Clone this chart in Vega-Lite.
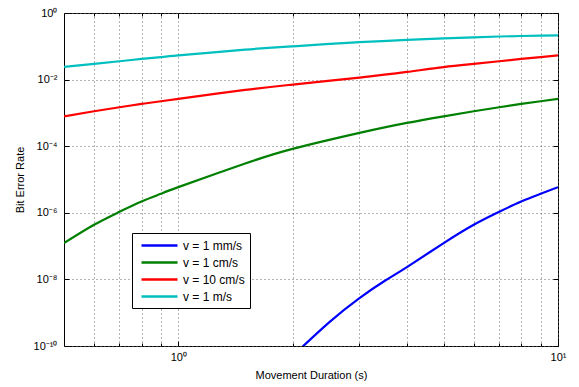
{
  "$schema": "https://vega.github.io/schema/vega-lite/v6.json",
  "autosize": {"type": "none"},
  "width": 494,
  "height": 333,
  "padding": {"left": 64, "top": 13, "right": 21, "bottom": 41},
  "background": "white",
  "config": {
    "view": {"stroke": "black", "strokeWidth": 1},
    "font": "Liberation Sans",
    "axis": {
      "labelFont": "Liberation Sans",
      "titleFont": "Liberation Sans",
      "labelColor": "black",
      "titleColor": "black",
      "labelFontSize": 11,
      "titleFontSize": 11,
      "titleFontWeight": "normal",
      "domain": false,
      "tickColor": "black",
      "gridColor": "#666666",
      "gridDash": [1, 3],
      "gridWidth": 1,
      "gridOpacity": 1
    }
  },
  "data": {
    "values": [
      {"t": 2.0, "ber": 5.0e-11, "v": "v = 1 mm/s"},
      {"t": 2.5, "ber": 5.2e-10, "v": "v = 1 mm/s"},
      {"t": 3, "ber": 2.75e-9, "v": "v = 1 mm/s"},
      {"t": 3.5, "ber": 9.1e-9, "v": "v = 1 mm/s"},
      {"t": 4, "ber": 2.34e-8, "v": "v = 1 mm/s"},
      {"t": 5, "ber": 1.23e-7, "v": "v = 1 mm/s"},
      {"t": 6, "ber": 4.37e-7, "v": "v = 1 mm/s"},
      {"t": 7, "ber": 1.07e-6, "v": "v = 1 mm/s"},
      {"t": 8, "ber": 2.19e-6, "v": "v = 1 mm/s"},
      {"t": 9, "ber": 3.72e-6, "v": "v = 1 mm/s"},
      {"t": 10, "ber": 5.89e-6, "v": "v = 1 mm/s"},

      {"t": 0.5, "ber": 1.23e-7, "v": "v = 1 cm/s"},
      {"t": 0.6, "ber": 4.37e-7, "v": "v = 1 cm/s"},
      {"t": 0.7, "ber": 1.07e-6, "v": "v = 1 cm/s"},
      {"t": 0.8, "ber": 2.19e-6, "v": "v = 1 cm/s"},
      {"t": 0.9, "ber": 3.72e-6, "v": "v = 1 cm/s"},
      {"t": 1, "ber": 5.89e-6, "v": "v = 1 cm/s"},
      {"t": 1.5, "ber": 3.02e-5, "v": "v = 1 cm/s"},
      {"t": 2, "ber": 8.32e-5, "v": "v = 1 cm/s"},
      {"t": 3, "ber": 2.51e-4, "v": "v = 1 cm/s"},
      {"t": 4, "ber": 5.01e-4, "v": "v = 1 cm/s"},
      {"t": 5, "ber": 7.9e-4, "v": "v = 1 cm/s"},
      {"t": 6, "ber": 1.12e-3, "v": "v = 1 cm/s"},
      {"t": 7, "ber": 1.48e-3, "v": "v = 1 cm/s"},
      {"t": 8, "ber": 1.86e-3, "v": "v = 1 cm/s"},
      {"t": 9, "ber": 2.24e-3, "v": "v = 1 cm/s"},
      {"t": 10, "ber": 2.63e-3, "v": "v = 1 cm/s"},

      {"t": 0.5, "ber": 7.9e-4, "v": "v = 10 cm/s"},
      {"t": 0.6, "ber": 1.12e-3, "v": "v = 10 cm/s"},
      {"t": 0.7, "ber": 1.48e-3, "v": "v = 10 cm/s"},
      {"t": 0.8, "ber": 1.86e-3, "v": "v = 10 cm/s"},
      {"t": 0.9, "ber": 2.24e-3, "v": "v = 10 cm/s"},
      {"t": 1, "ber": 2.63e-3, "v": "v = 10 cm/s"},
      {"t": 1.5, "ber": 4.9e-3, "v": "v = 10 cm/s"},
      {"t": 2, "ber": 7.08e-3, "v": "v = 10 cm/s"},
      {"t": 3, "ber": 0.0115, "v": "v = 10 cm/s"},
      {"t": 4, "ber": 0.017, "v": "v = 10 cm/s"},
      {"t": 5, "ber": 0.0237, "v": "v = 10 cm/s"},
      {"t": 6, "ber": 0.0295, "v": "v = 10 cm/s"},
      {"t": 7, "ber": 0.0355, "v": "v = 10 cm/s"},
      {"t": 8, "ber": 0.0417, "v": "v = 10 cm/s"},
      {"t": 9, "ber": 0.0473, "v": "v = 10 cm/s"},
      {"t": 10, "ber": 0.0531, "v": "v = 10 cm/s"},

      {"t": 0.5, "ber": 0.024, "v": "v = 1 m/s"},
      {"t": 0.6, "ber": 0.0295, "v": "v = 1 m/s"},
      {"t": 0.7, "ber": 0.0355, "v": "v = 1 m/s"},
      {"t": 0.8, "ber": 0.0417, "v": "v = 1 m/s"},
      {"t": 0.9, "ber": 0.0473, "v": "v = 1 m/s"},
      {"t": 1, "ber": 0.0531, "v": "v = 1 m/s"},
      {"t": 1.5, "ber": 0.0794, "v": "v = 1 m/s"},
      {"t": 2, "ber": 0.1, "v": "v = 1 m/s"},
      {"t": 2.5, "ber": 0.1175, "v": "v = 1 m/s"},
      {"t": 3, "ber": 0.1334, "v": "v = 1 m/s"},
      {"t": 4, "ber": 0.155, "v": "v = 1 m/s"},
      {"t": 5, "ber": 0.1718, "v": "v = 1 m/s"},
      {"t": 6, "ber": 0.186, "v": "v = 1 m/s"},
      {"t": 7, "ber": 0.197, "v": "v = 1 m/s"},
      {"t": 8, "ber": 0.204, "v": "v = 1 m/s"},
      {"t": 9, "ber": 0.209, "v": "v = 1 m/s"},
      {"t": 10, "ber": 0.214, "v": "v = 1 m/s"}
    ]
  },
  "resolve": {"axis": {"x": "independent", "y": "independent"}},
  "layer": [
    {
      "mark": {"type": "line", "strokeWidth": 2.2, "clip": true, "interpolate": "natural"},
      "encoding": {
        "x": {
          "field": "t", "type": "quantitative",
          "scale": {"type": "log", "domain": [0.5, 10], "nice": false},
          "axis": {
            "orient": "bottom",
            "title": "Movement Duration (s)",
            "values": [0.6, 0.7, 0.8, 0.9, 1, 2, 3, 4, 5, 6, 7, 8, 9, 10],
            "labelExpr": "datum.value == 1 ? '10⁰' : (datum.value == 10 ? '10¹' : '')",
            "tickSize": {"condition": {"test": "datum.value == 1 || datum.value == 10", "value": -5}, "value": -3},
            "labelPadding": 10,
            "labelFlush": false,
            "labelOverlap": false,
            "grid": true,
            "titleX": 247,
            "titleY": 29,
            "titleBaseline": "middle"
          }
        },
        "y": {
          "field": "ber", "type": "quantitative",
          "scale": {"type": "log", "domain": [1e-10, 1], "nice": false},
          "axis": {
            "orient": "left",
            "title": "Bit Error Rate",
            "values": [1e-10, 1e-8, 1e-6, 1e-4, 1e-2, 1],
            "labelExpr": "datum.value == 1 ? '10⁰' : datum.value == 0.01 ? '10⁻²' : datum.value == 0.0001 ? '10⁻⁴' : datum.value == 0.000001 ? '10⁻⁶' : datum.value == 0.00000001 ? '10⁻⁸' : '10⁻¹⁰'",
            "tickSize": -5,
            "labelPadding": 12,
            "labelFlush": false,
            "labelOverlap": false,
            "grid": true,
            "titleX": -44,
            "titleY": 166.5,
            "titleBaseline": "middle",
            "titleAngle": -90,
            "titleAlign": "center"
          }
        },
        "color": {
          "field": "v", "type": "nominal",
          "scale": {
            "domain": ["v = 1 mm/s", "v = 1 cm/s", "v = 10 cm/s", "v = 1 m/s"],
            "range": ["#0000FF", "#008000", "#FF0000", "#00BFBF"]
          },
          "legend": {
            "title": null,
            "orient": "none",
            "legendX": 68,
            "legendY": 220,
            "fillColor": "white",
            "strokeColor": "black",
            "padding": 5,
            "symbolType": "M-3,0H3",
            "symbolSize": 144,
            "symbolOffset": 15,
            "symbolStrokeWidth": 2.5,
            "labelFont": "Liberation Sans",
            "labelFontSize": 12,
            "labelColor": "black",
            "labelOffset": 16,
            "rowPadding": 3
          }
        }
      }
    },
    {
      "mark": {"type": "line", "opacity": 0, "clip": true},
      "encoding": {
        "x": {
          "field": "t", "type": "quantitative",
          "scale": {"type": "log", "domain": [0.5, 10], "nice": false},
          "axis": {
            "orient": "top",
            "title": null,
            "values": [0.6, 0.7, 0.8, 0.9, 1, 2, 3, 4, 5, 6, 7, 8, 9, 10],
            "labels": false,
            "grid": false,
            "tickSize": {"condition": {"test": "datum.value == 1 || datum.value == 10", "value": -5}, "value": -3}
          }
        },
        "y": {
          "field": "ber", "type": "quantitative",
          "scale": {"type": "log", "domain": [1e-10, 1], "nice": false},
          "axis": {
            "orient": "right",
            "title": null,
            "values": [1e-10, 1e-8, 1e-6, 1e-4, 1e-2, 1],
            "labels": false,
            "grid": false,
            "tickSize": -5
          }
        },
        "detail": {"field": "v", "type": "nominal"}
      }
    }
  ]
}
